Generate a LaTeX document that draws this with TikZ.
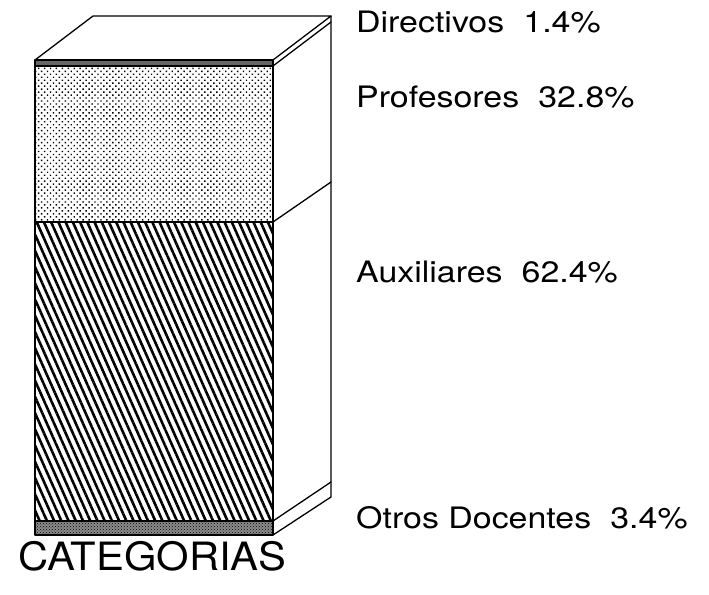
\documentclass[tikz,border=0pt]{standalone}
\usepackage{fontspec}
\setmainfont{TeX Gyre Heros}
\newfontfamily\lblfont[FakeStretch=1.15]{TeX Gyre Heros}
\newfontfamily\catfont[FakeStretch=1.07]{TeX Gyre Heros}
\usetikzlibrary{patterns,patterns.meta}
\begin{document}
\begin{tikzpicture}[x=1pt,y=-1pt,
  edge/.style={line width=1.3pt, line join=round, line cap=round},
  lbl/.style={anchor=base west, inner sep=0pt, font=\lblfont\fontsize{29.5}{31}\selectfont},
  cat/.style={anchor=base west, inner sep=0pt, font=\catfont\fontsize{39}{42}\selectfont}]
\useasboundingbox (0,0) rectangle (709,594);
% fills of the front face
\fill[pattern={Dots[distance=4.2pt,radius=1pt,angle=45]}] (35,66) rectangle (273,222);
\fill[pattern={Lines[angle=-66,distance=6.6pt,line width=2.6pt]}] (35,222) rectangle (273,521);
\fill[black!60] (35,60) rectangle (273,66);
\fill[black!45] (35,521) rectangle (273,535);
\fill[pattern=crosshatch dots] (35,521) rectangle (273,535);
% outlines
\draw[edge] (35,60) -- (93,16) -- (331,16) -- (273,60) -- cycle;
\draw[edge] (35,60) rectangle (273,535);
\draw[edge] (35,66) -- (273,66);
\draw[edge] (35,222) -- (273,222);
\draw[edge] (35,521) -- (273,521);
\draw[edge] (331,16) -- (331,497) -- (273,535);
\draw[edge] (273,66) -- (331,22);
\draw[edge] (273,222) -- (331,182);
\draw[edge] (273,521) -- (331,482);
% labels
\node[lbl] (dir) at (356,33) {Directivos\hspace{0.65em}1.4\%};
\node[lbl] (prof) at (356,107) {Profesores\hspace{0.65em}32.8\%};
\node[lbl] (aux) at (356,282) {Auxiliares\hspace{0.65em}62.4\%};
\node[lbl] (otros) at (356,528) {Otros Docentes\hspace{0.65em}3.4\%};
\node[cat] (cat) at (18,570) {CATEGORIAS};
\end{tikzpicture}
\end{document}
